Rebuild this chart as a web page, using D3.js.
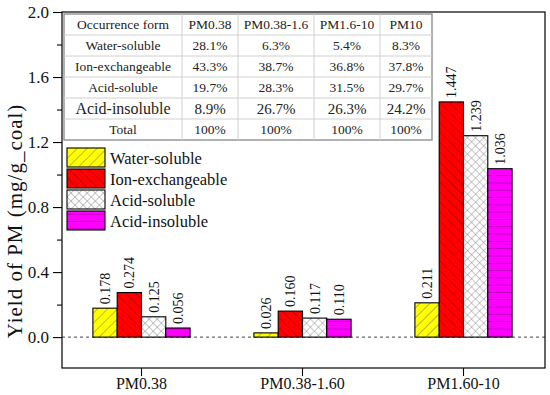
<!DOCTYPE html>
<html>
<head>
<meta charset="utf-8">
<script src="https://cdn.jsdelivr.net/npm/d3@7"></script>
<style>
body { margin: 0; background: #fff; }
svg text { font-family: "Liberation Serif", "Times New Roman", serif !important; }
</style>
</head>
<body>
<div id="chart"></div>
<script>
var svgWidth = 550;
var svgHeight = 395;

// data
var groups = ["PM0.38", "PM0.38-1.60", "PM1.60-10"];
var forms = ["Water-soluble", "Ion-exchangeable", "Acid-soluble", "Acid-insoluble"];
var waterSoluble = [0.178, 0.026, 0.211];
var ionExchangeable = [0.274, 0.160, 1.447];
var acidSoluble = [0.125, 0.117, 1.239];
var acidInsoluble = [0.056, 0.110, 1.036];
var yTicks = [0.0, 0.4, 0.8, 1.2, 1.6, 2.0];
var yMinorTicks = [0.2, 0.6, 1.0, 1.4, 1.8];

var tableHeader = ["Occurrence form", "PM0.38", "PM0.38-1.6", "PM1.6-10", "PM10"];
var tableRows = [
  ["Water-soluble", "28.1%", "6.3%", "5.4%", "8.3%"],
  ["Ion-exchangeable", "43.3%", "38.7%", "36.8%", "37.8%"],
  ["Acid-soluble", "19.7%", "28.3%", "31.5%", "29.7%"],
  ["Acid-insoluble", "8.9%", "26.7%", "26.3%", "24.2%"],
  ["Total", "100%", "100%", "100%", "100%"]
];

var seriesValues = [waterSoluble, ionExchangeable, acidSoluble, acidInsoluble];
var fills = ["url(#pYellow)", "url(#pRed)", "url(#pCross)", "url(#pMagenta)"];

var frame = { left: 62, right: 545, top: 12, bottom: 368 };

var svg = d3.select("#chart")
            .append("svg")
            .attr("width", svgWidth)
            .attr("height", svgHeight);

// patterns
var defs = svg.append("defs");
function linePattern(id, bg, stroke, angle, size, sw) {
  var p = defs.append("pattern")
              .attr("id", id)
              .attr("patternUnits", "userSpaceOnUse")
              .attr("width", size).attr("height", size)
              .attr("patternTransform", "rotate(" + angle + ")");
  p.append("rect").attr("width", size).attr("height", size).attr("fill", bg);
  p.append("line").attr("x1", 0).attr("y1", 0).attr("x2", 0).attr("y2", size)
   .attr("stroke", stroke).attr("stroke-width", sw);
  return p;
}
linePattern("pYellow", "#ffff00", "#555", 45, 7, 0.8);
linePattern("pRed", "#ff0000", "#700", -45, 7, 0.8);
linePattern("pMagenta", "#ff00ff", "#7a007a", 90, 7.3, 0.9);
var pc = linePattern("pCross", "#ffffff", "#777", 45, 5.7, 0.8);
pc.append("line").attr("x1", 0).attr("y1", 0).attr("x2", 5.7).attr("y2", 0)
  .attr("stroke", "#777").attr("stroke-width", 0.8);

// scales
var x = d3.scaleBand().domain(groups).range([61, 544]).padding(0);
var inner = d3.scaleBand().domain(forms).range([-48.6, 48.6]).padding(0);
var y = d3.scaleLinear().domain([-0.19, 2.0]).range([frame.bottom, frame.top]);

// zero line
svg.append("line")
   .attr("x1", frame.left).attr("x2", frame.right)
   .attr("y1", y(0)).attr("y2", y(0))
   .attr("stroke", "#444").attr("stroke-width", 1)
   .attr("stroke-dasharray", "3,3");

// bars
forms.forEach(function(f, si) {
  var g = svg.append("g");
  g.selectAll("rect")
   .data(seriesValues[si])
   .enter()
   .append("rect")
   .attr("x", (d, i) => x(groups[i]) + x.bandwidth() / 2 + inner(f))
   .attr("y", d => y(d))
   .attr("width", inner.bandwidth())
   .attr("height", d => y(0) - y(d))
   .attr("fill", fills[si])
   .attr("stroke", "#000")
   .attr("stroke-width", 1.1);

  g.selectAll("text")
   .data(seriesValues[si])
   .enter()
   .append("text")
   .attr("transform", (d, i) => "translate(" + (x(groups[i]) + x.bandwidth() / 2 + inner(f) + inner.bandwidth() / 2 + 5) + "," + (y(d) - 4) + ") rotate(-90)")
   .attr("font-size", "14px")
   .attr("fill", "#111")
   .text(d => d.toFixed(3));
});

// frame
svg.append("rect")
   .attr("x", frame.left).attr("y", frame.top)
   .attr("width", frame.right - frame.left)
   .attr("height", frame.bottom - frame.top)
   .attr("fill", "none").attr("stroke", "#000").attr("stroke-width", 1.2);

// y axis
var yAxis = svg.append("g")
   .attr("transform", `translate(${frame.left},0)`)
   .call(d3.axisLeft(y).tickValues(yTicks).tickFormat(d3.format(".1f")).tickSize(9).tickPadding(4));
yAxis.select(".domain").remove();
yAxis.selectAll("text").attr("font-size", "17px").attr("fill", "#111");
yAxis.selectAll("line").attr("stroke-width", 1.1);
svg.append("g")
   .attr("transform", `translate(${frame.left},0)`)
   .call(d3.axisLeft(y).tickValues(yMinorTicks).tickSize(5).tickFormat(""))
   .call(g => g.select(".domain").remove())
   .selectAll("line").attr("stroke-width", 1.1);

// x axis
var xAxis = svg.append("g")
   .attr("transform", `translate(0,${frame.bottom})`)
   .call(d3.axisBottom(x).tickSize(8).tickPadding(2));
xAxis.select(".domain").remove();
xAxis.selectAll("text").attr("font-size", "16px").attr("fill", "#111");
xAxis.selectAll("line").attr("stroke-width", 1.1);

// y label
svg.append("text")
   .attr("transform", "translate(22,221) rotate(-90)")
   .attr("text-anchor", "middle")
   .attr("font-size", "21px")
   .attr("letter-spacing", "1px")
   .attr("fill", "#111")
   .text("Yield of PM (mg/g_coal)");

// table
var colEdges = [64, 182, 238, 314, 380, 432];
var tTop = 14, rowH = 21;
var allRows = [tableHeader].concat(tableRows);
var table = svg.append("g");
table.append("rect")
     .attr("x", colEdges[0]).attr("y", tTop)
     .attr("width", colEdges[5] - colEdges[0]).attr("height", rowH * allRows.length)
     .attr("fill", "#fff").attr("stroke", "#888").attr("stroke-width", 1.3);
for (var r = 1; r < allRows.length; r++) {
  table.append("line").attr("x1", colEdges[0]).attr("x2", colEdges[5])
       .attr("y1", tTop + r * rowH).attr("y2", tTop + r * rowH)
       .attr("stroke", "#d0d0d0").attr("stroke-width", 1);
}
for (var c = 1; c < colEdges.length - 1; c++) {
  table.append("line").attr("x1", colEdges[c]).attr("x2", colEdges[c])
       .attr("y1", tTop).attr("y2", tTop + rowH * allRows.length)
       .attr("stroke", "#d0d0d0").attr("stroke-width", 1);
}
allRows.forEach(function(row, ri) {
  row.forEach(function(cell, ci) {
    var big = ri === 4;
    table.append("text")
         .attr("x", (colEdges[ci] + colEdges[ci + 1]) / 2)
         .attr("y", tTop + ri * rowH + rowH / 2)
         .attr("dy", "0.35em")
         .attr("text-anchor", "middle")
         .attr("font-size", big ? (ci === 0 ? "16px" : "15px") : "13.5px")
         .attr("fill", "#222")
         .text(cell);
  });
});

// legend
var legend = svg.append("g").attr("transform", "translate(67,148)");
forms.forEach(function(f, i) {
  legend.append("rect")
        .attr("x", 0).attr("y", i * 21)
        .attr("width", 38).attr("height", 19)
        .attr("fill", fills[i])
        .attr("stroke", "#000").attr("stroke-width", 1.1);
  legend.append("text")
        .attr("x", 43).attr("y", i * 21 + 10)
        .attr("dy", "0.35em")
        .attr("font-size", "16.5px")
        .attr("fill", "#111")
        .text(f);
});
</script>
</body>
</html>
